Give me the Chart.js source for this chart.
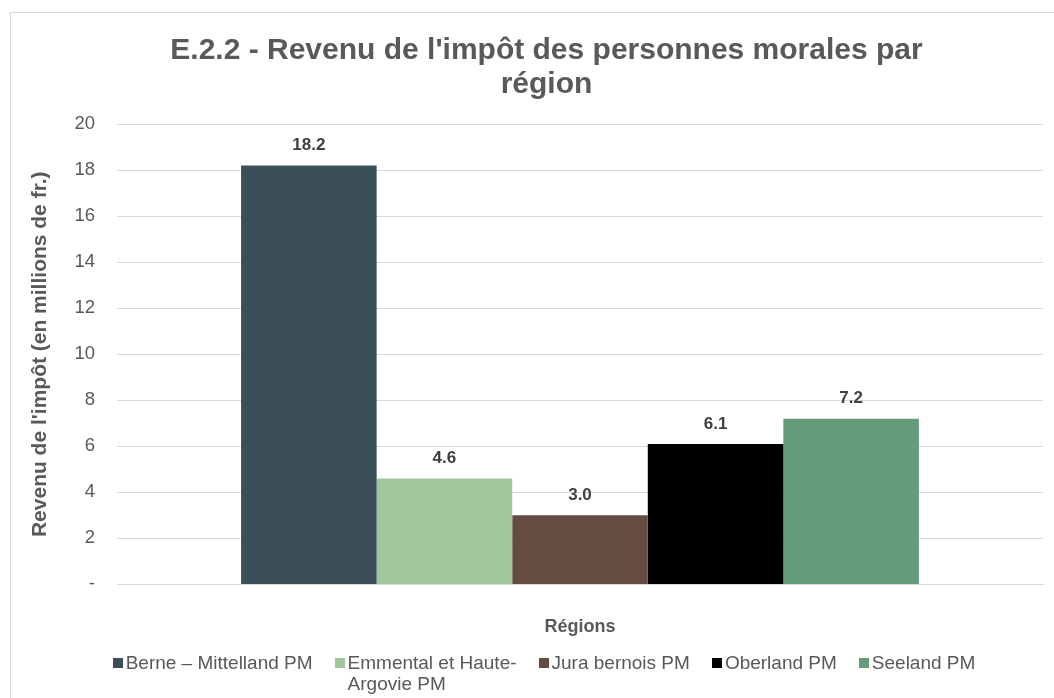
<!DOCTYPE html>
<html>
<head>
<meta charset="utf-8">
<script src="https://cdn.jsdelivr.net/npm/chart.js@4"></script>
<style>
  body { margin: 0; background: #fff; }
  #frame { position: absolute; left: 10px; top: 12px; width: 1100px; height: 720px; border: 1px solid #d9d9d9; }
  #wrap { position: absolute; left: 0; top: 0; width: 1054px; height: 698px; }
  #legend { position: absolute; left: 0; top: 652px; width: 1088px; display: flex; justify-content: center;
            font-family: 'Liberation Sans', Arial, sans-serif; font-size: 19px; line-height: 21px; color: #595959; }
  .item { display: flex; align-items: flex-start; margin: 0 11px; white-space: nowrap; }
  .box { width: 10px; height: 10px; margin: 6px 3px 0 0; flex: none; }
</style>
</head>
<body>
<div id="frame"></div>
<div id="wrap"><canvas id="chart"></canvas></div>
<div id="legend"></div>
<script>
// Data
const categories = [''];
const regions = ['Berne – Mittelland PM', ['Emmental et Haute-', 'Argovie PM'], 'Jura bernois PM', 'Oberland PM', 'Seeland PM'];
const values = [18.2, 4.6, 3.0, 6.1, 7.2];
const colors = ['#3b4f58', '#a1c69e', '#654c42', '#000000', '#659b7a'];
const yTicks = [0, 2, 4, 6, 8, 10, 12, 14, 16, 18, 20];

const font = "'Liberation Sans', Arial, sans-serif";
const grey = '#595959';

// draw the value above each bar
const barLabels = {
  id: 'barLabels',
  afterDatasetsDraw(chart) {
    const ctx = chart.ctx;
    ctx.save();
    ctx.font = 'bold 17px ' + font;
    ctx.fillStyle = '#404040';
    ctx.textAlign = 'center';
    ctx.textBaseline = 'middle';
    chart.data.datasets.forEach(function(ds, i) {
      chart.getDatasetMeta(i).data.forEach(function(bar, j) {
        ctx.fillText(ds.data[j].toFixed(1), bar.x, bar.y - 20);
      });
    });
    ctx.restore();
  }
};

// title sits a little right of the plot centre
const titleShift = {
  id: 'titleShift',
  afterLayout(chart) {
    chart.titleBlock.left += 14;
    chart.titleBlock.right += 14;
  }
};

const ctx = document.getElementById('chart').getContext('2d');
const chart = new Chart(ctx, {
  type: 'bar',
  data: {
    labels: categories,
    datasets: regions.map(function(r, i) {
      return {
        label: r,
        data: [values[i]],
        backgroundColor: colors[i],
        categoryPercentage: 0.732,
        barPercentage: 1.0
      };
    })
  },
  options: {
    responsive: true,
    maintainAspectRatio: false,
    animation: false,
    layout: { padding: { left: 22, right: 11, top: 34, bottom: 60 } },
    plugins: {
      title: {
        display: true,
        text: ["E.2.2 - Revenu de l'impôt des personnes morales par", 'région'],
        color: grey,
        font: { family: font, size: 30, weight: 'bold', lineHeight: 1.12 },
        padding: { top: 0, bottom: 23 }
      },
      legend: { display: false },
      tooltip: { enabled: false }
    },
    scales: {
      x: {
        grid: { display: false },
        border: { color: '#d9d9d9' },
        ticks: { display: false },
        title: {
          display: true,
          text: 'Régions',
          color: grey,
          font: { family: font, size: 18, weight: 'bold' },
          padding: { top: 24, bottom: 0 }
        }
      },
      y: {
        min: 0,
        max: 20,
        afterBuildTicks: function(axis) {
          axis.ticks = yTicks.map(function(v) { return { value: v }; });
        },
        afterFit: function(axis) { axis.width = 95; },
        grid: { color: '#d9d9d9', drawTicks: false },
        border: { display: false },
        ticks: {
          color: grey,
          padding: 22,
          font: { family: font, size: 18.5 },
          callback: function(v) { return v === 0 ? '-' : v; }
        },
        title: {
          display: true,
          text: "Revenu de l'impôt (en millions de fr.)",
          color: grey,
          font: { family: font, size: 21, weight: 'bold' },
          padding: { top: 6, bottom: 0 }
        }
      }
    }
  },
  plugins: [barLabels, titleShift]
});

// HTML legend built from the datasets
const legend = document.getElementById('legend');
chart.data.datasets.forEach(function(ds) {
  const item = document.createElement('div');
  item.className = 'item';
  const box = document.createElement('span');
  box.className = 'box';
  box.style.background = ds.backgroundColor;
  const text = document.createElement('span');
  text.innerHTML = [].concat(ds.label).join('<br>');
  item.appendChild(box);
  item.appendChild(text);
  legend.appendChild(item);
});
</script>
</body>
</html>
